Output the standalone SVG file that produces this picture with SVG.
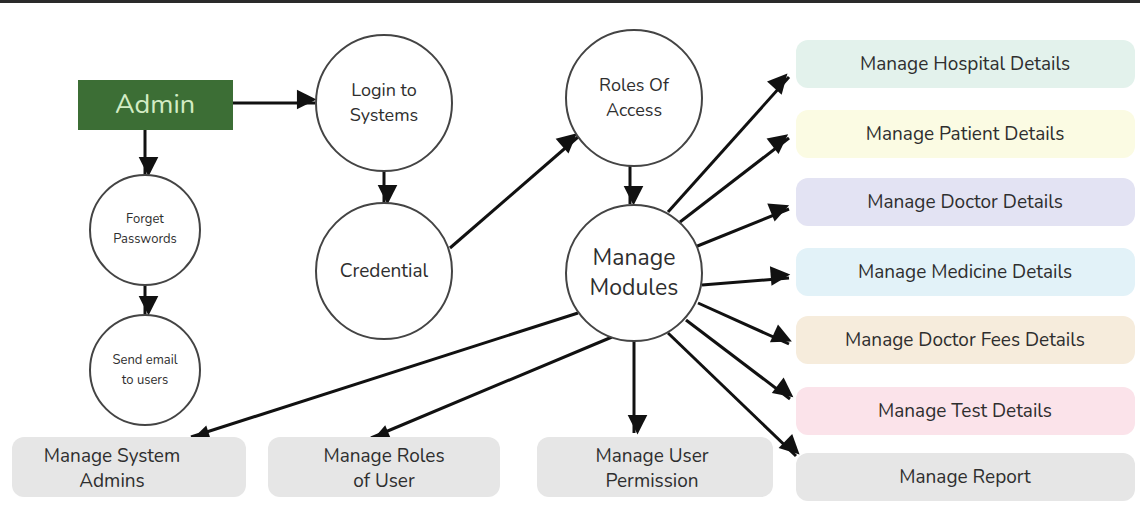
<svg xmlns="http://www.w3.org/2000/svg" width="1140" height="521" viewBox="0 0 1140 521">
<style>
text{font-family:"Nunito","Lato","Liberation Sans",sans-serif;fill:#2e2e2e;text-anchor:middle;dominant-baseline:central}
.c{fill:#fff;stroke:#444;stroke-width:2}
.b{stroke:none}
.l{stroke:#111;stroke-width:3;fill:none;marker-end:url(#a)}
</style>
<defs><marker id="a" viewBox="0 0 10 10" refX="9" refY="5" markerWidth="7" markerHeight="7" markerUnits="userSpaceOnUse" orient="auto" style="overflow:visible"><path d="M0,0L10,5L0,10z" fill="#111" transform="scale(2.8) translate(-6,-5)" /></marker></defs>
<rect width="1140" height="521" fill="#fff"/>
<rect width="1140" height="3" fill="#2a2a2a"/>
<g id="connectors">
<path class="l" d="M233,103H315"/>
<path class="l" d="M145,130V175"/>
<path class="l" d="M145,285V314"/>
<path class="l" d="M384,171V203"/>
<path class="l" d="M450,248L578,137"/>
<path class="l" d="M630,166V204"/>
<path class="l" d="M668,212L789,77"/>
<path class="l" d="M680,222L789,138"/>
<path class="l" d="M695,247L789,209"/>
<path class="l" d="M702,285L789,278"/>
<path class="l" d="M698,303L789,344"/>
<path class="l" d="M686,320L790,399"/>
<path class="l" d="M668,333L796,456"/>
<path class="l" d="M578,313L191,437"/>
<path class="l" d="M612,337L371,438"/>
<path class="l" d="M634,341V433"/>
</g>
<g id="admin"><rect x="78" y="80" width="155" height="50" fill="#3c6e35"/><text x="155" y="104" font-size="27" style="fill:#d3ecc4">Admin</text></g>
<g id="login"><circle class="c" cx="384" cy="103" r="68"/><text x="384" y="90" font-size="18">Login to</text><text x="384" y="115" font-size="18">Systems</text></g>
<g id="credential"><circle class="c" cx="384" cy="271" r="68"/><text x="384" y="271" font-size="19">Credential</text></g>
<g id="roles"><circle class="c" cx="634" cy="98" r="68"/><text x="634" y="85" font-size="18">Roles Of</text><text x="634" y="110" font-size="18">Access</text></g>
<g id="modules"><circle class="c" cx="634" cy="273" r="68"/><text x="634" y="257" font-size="23">Manage</text><text x="634" y="287" font-size="23">Modules</text></g>
<g id="forget"><circle class="c" cx="145" cy="230" r="55"/><text x="145" y="219" font-size="13">Forget</text><text x="145" y="239" font-size="13">Passwords</text></g>
<g id="send"><circle class="c" cx="145" cy="370" r="55"/><text x="145" y="360" font-size="13">Send email</text><text x="145" y="380" font-size="13">to users</text></g>
<g id="hospital"><rect class="b" x="796" y="40" width="339" height="48" rx="12" fill="#e3f2ec"/><text x="965" y="64" font-size="19">Manage Hospital Details</text></g>
<g id="patient"><rect class="b" x="796" y="110" width="339" height="48" rx="12" fill="#fbfbe3"/><text x="965" y="134" font-size="19">Manage Patient Details</text></g>
<g id="doctor"><rect class="b" x="796" y="178" width="339" height="48" rx="12" fill="#e3e3f3"/><text x="965" y="202" font-size="19">Manage Doctor Details</text></g>
<g id="medicine"><rect class="b" x="796" y="248" width="339" height="48" rx="12" fill="#e2f2f8"/><text x="965" y="272" font-size="19">Manage Medicine Details</text></g>
<g id="fees"><rect class="b" x="796" y="316" width="339" height="48" rx="12" fill="#f6ecdc"/><text x="965" y="340" font-size="19">Manage Doctor Fees Details</text></g>
<g id="test"><rect class="b" x="796" y="387" width="339" height="48" rx="12" fill="#fbe3ea"/><text x="965" y="411" font-size="19">Manage Test Details</text></g>
<g id="report"><rect class="b" x="796" y="453" width="339" height="48" rx="12" fill="#e6e6e6"/><text x="965" y="477" font-size="19">Manage Report</text></g>
<g id="sysadmins"><rect class="b" x="12" y="437" width="234" height="60" rx="12" fill="#e6e6e6"/><text x="112" y="456" font-size="19">Manage System</text><text x="112" y="481" font-size="19">Admins</text></g>
<g id="rolesuser"><rect class="b" x="268" y="437" width="232" height="60" rx="12" fill="#e6e6e6"/><text x="384" y="456" font-size="19">Manage Roles</text><text x="384" y="481" font-size="19">of User</text></g>
<g id="permission"><rect class="b" x="537" y="437" width="236" height="60" rx="12" fill="#e6e6e6"/><text x="652" y="456" font-size="19">Manage User</text><text x="652" y="481" font-size="19">Permission</text></g>
</svg>
